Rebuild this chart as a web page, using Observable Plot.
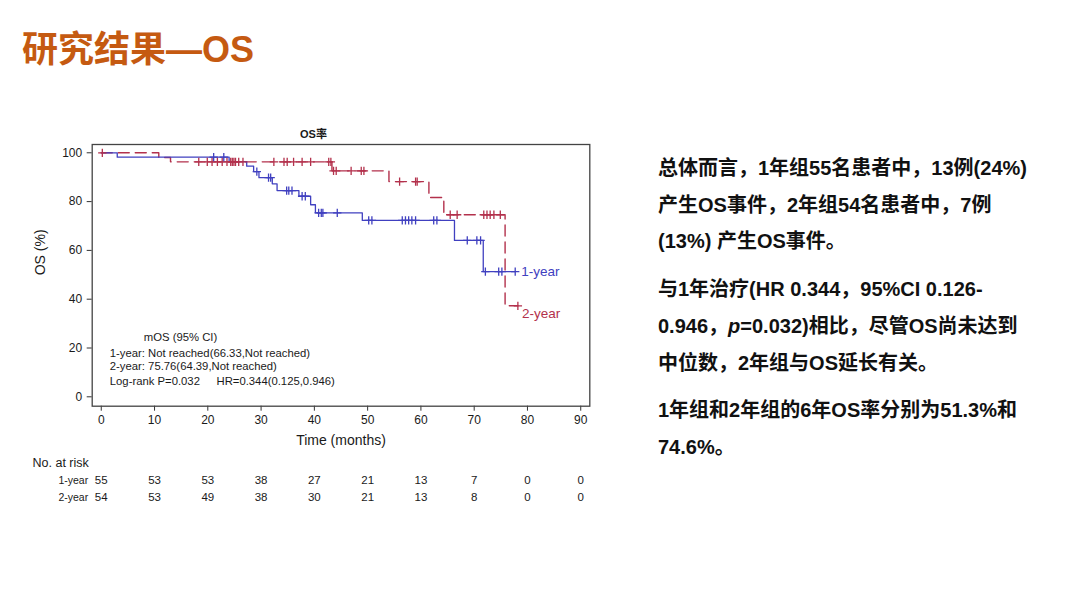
<!DOCTYPE html>
<html>
<head>
<meta charset="utf-8">
<script src="https://cdn.jsdelivr.net/npm/d3@7"></script>
<script src="https://cdn.jsdelivr.net/npm/@observablehq/plot@0.6"></script>
<style>
  html, body { margin: 0; padding: 0; background: #fff; }
  body { width: 1080px; height: 608px; position: relative; overflow: hidden;
         font-family: "Liberation Sans", Arial, "Noto Sans CJK SC", sans-serif; }
  #title { position: absolute; left: 22px; top: 28px; font-size: 36px; font-weight: bold;
           color: #C55A11; line-height: 44px; white-space: nowrap; }
  #chart { position: absolute; left: 0; top: 120px; }
  #notes { position: absolute; left: 658px; top: 150px; width: 420px; font-size: 20px;
           font-weight: bold; color: #111; line-height: 36.7px; }
  #notes p { margin: 0 0 11px 0; white-space: nowrap; }
</style>
</head>
<body>
<div id="title">研究结果—OS</div>
<div id="chart"></div>
<div id="notes">
  <p>总体而言，1年组55名患者中，13例(24%)<br>产生OS事件，2年组54名患者中，7例<br>(13%) 产生OS事件。</p>
  <p>与1年治疗(HR 0.344，95%CI 0.126-<br>0.946，<i>p</i>=0.032)相比，尽管OS尚未达到<br>中位数，2年组与OS延长有关。</p>
  <p>1年组和2年组的6年OS率分别为51.3%和<br>74.6%。</p>
</div>
<script>
// ---- Data ----
// 1-year group: step times (months) and survival (%) after each step; last point = end of follow-up
const oneYearTimes = [0, 3, 24, 27.3, 28.6, 29.6, 32.1, 33, 37.1, 39.3, 40.2, 49, 66.3, 71.7, 77.7];
const oneYearSurv  = [100, 98.2, 96.4, 94.5, 92.3, 89.8, 87.3, 84.5, 82.2, 78.7, 75.4, 72.3, 64.1, 51.3, 51.3];
const oneYearCensored = [21.1, 23.0, 29.2, 31.4, 31.8, 34.8, 35.2, 35.8, 37.7, 38.3, 40.8, 41.3, 41.6, 44.3,
  50.2, 50.8, 56.5, 57.1, 57.7, 58.3, 59.0, 62.4, 63.0, 68.7, 70.5, 71.2, 72.1, 74.6, 75.2, 77.7];

// 2-year group
const twoYearTimes = [0, 10.8, 13, 43.3, 54, 61.5, 64.3, 75.8, 78.2];
const twoYearSurv  = [100, 98.1, 96.3, 92.6, 88.2, 81.7, 74.6, 37.3, 37.3];
const twoYearCensored = [0.2, 18.3, 19.9, 20.8, 21.8, 22.7, 23.6, 24.3, 24.6, 24.9, 25.2, 25.8, 26.6,
  32.4, 34.3, 34.9, 36.1, 37.7, 39.3, 42.7, 43.1, 43.6, 44.1, 46.9, 48.8, 49.3, 56, 59, 59.3,
  65.5, 66.8, 71.8, 72.4, 73.0, 73.7, 74.9, 78.2];

// Number at risk
const riskTimes = [0, 10, 20, 30, 40, 50, 60, 70, 80, 90];
const riskOneYear = [55, 53, 53, 38, 27, 21, 13, 7, 0, 0];
const riskTwoYear = [54, 53, 49, 38, 30, 21, 13, 8, 0, 0];

const xTicks = [0, 10, 20, 30, 40, 50, 60, 70, 80, 90];
const yTicks = [0, 20, 40, 60, 80, 100];

const groupNames = ["1-year", "2-year"];
const annotLines = ["1-year: Not reached(66.33,Not reached)", "2-year: 75.76(64.39,Not reached)", "Log-rank P=0.032"];

// ---- Build tables ----
const BLUE = "#4040c0", RED = "#b3314c", INK = "#1a1a1a";
const curve = (T, S) => T.map((t, i) => ({t, s: S[i]}));
const survAt = (T, S, x) => { let v = S[0]; for (let i = 0; i < T.length; i++) if (T[i] <= x) v = S[i]; return v; };
const oneCurve = curve(oneYearTimes, oneYearSurv);
const twoCurve = curve(twoYearTimes, twoYearSurv);
const oneCens = oneYearCensored.map(t => ({t, s: survAt(oneYearTimes, oneYearSurv, t)}));
const twoCens = twoYearCensored.map(t => ({t, s: survAt(twoYearTimes, twoYearSurv, t)}));
const risk1 = riskTimes.map((t, i) => ({t, n: riskOneYear[i]}));
const risk2 = riskTimes.map((t, i) => ({t, n: riskTwoYear[i]}));
const endOne = oneCurve[oneCurve.length - 1];
const endTwo = twoCurve[twoCurve.length - 1];

const chart = Plot.plot({
  width: 600, height: 390,
  marginLeft: 91.7, marginRight: 10.7, marginTop: 24, marginBottom: 104.3,
  style: {fontFamily: '"Liberation Sans", Arial, "Noto Sans CJK SC", sans-serif', fontSize: "12px", color: INK, background: "transparent"},
  x: {domain: [-1.7, 91.7]},
  y: {domain: [-3.85, 103.4]},
  marks: [
    Plot.axisX({ticks: xTicks, tickSize: 5, tickPadding: 4, label: null, stroke: "#333", fontSize: 12}),
    Plot.axisY({ticks: yTicks, tickSize: 5, tickPadding: 5, label: null, stroke: "#333", fontSize: 12}),
    Plot.line(twoCurve, {x: "t", y: "s", curve: "step-after", stroke: RED, strokeWidth: 1.4, strokeDasharray: "11,6"}),
    Plot.line(oneCurve, {x: "t", y: "s", curve: "step-after", stroke: BLUE, strokeWidth: 1.3}),
    Plot.dot(twoCens, {x: "t", y: "s", symbol: "plus", r: 2.8, stroke: RED, strokeWidth: 1.3}),
    Plot.dot(oneCens, {x: "t", y: "s", symbol: "plus", r: 2.8, stroke: BLUE, strokeWidth: 1.3}),
    Plot.text([endOne], {x: "t", y: "s", text: () => groupNames[0], dx: 6, textAnchor: "start", fill: BLUE, fontSize: 13.5}),
    Plot.text([endTwo], {x: "t", y: "s", text: () => groupNames[1], dx: 4, dy: 8, textAnchor: "start", fill: RED, fontSize: 13.5}),
    Plot.frame({stroke: "#444", strokeWidth: 1.3}),
    // title
    Plot.text(["OS率"], {frameAnchor: "top", dx: -27.5, dy: -14, fontWeight: "bold", fontSize: 11, fill: INK}),
    // annotation
    Plot.text(["mOS (95% CI)"], {frameAnchor: "bottom-left", dx: 51.6, dy: -65.7, textAnchor: "start", fontSize: 11.3, fill: INK}),
    Plot.text([annotLines[0]], {frameAnchor: "bottom-left", dx: 17.6, dy: -49, textAnchor: "start", fontSize: 11.3, fill: INK}),
    Plot.text([annotLines[1]], {frameAnchor: "bottom-left", dx: 17.6, dy: -36.2, textAnchor: "start", fontSize: 11.3, fill: INK}),
    Plot.text([annotLines[2]], {frameAnchor: "bottom-left", dx: 17.6, dy: -21.7, textAnchor: "start", fontSize: 11.3, fill: INK}),
    Plot.text(["HR=0.344(0.125,0.946)"], {frameAnchor: "bottom-left", dx: 124.3, dy: -21.7, textAnchor: "start", fontSize: 11.3, fill: INK}),
    // axis titles
    Plot.text(["Time (months)"], {frameAnchor: "bottom", dy: 38.5, fontSize: 14, fill: INK}),
    Plot.text(["OS (%)"], {frameAnchor: "left", dx: -51.7, rotate: -90, fontSize: 14, fill: INK}),
    // risk table
    Plot.text(["No. at risk"], {frameAnchor: "bottom-left", dx: -59.7, dy: 61, textAnchor: "start", fontSize: 12.5, fill: INK}),
    Plot.text([groupNames[0]], {frameAnchor: "bottom-left", dx: -4, dy: 77.5, textAnchor: "end", fontSize: 10.5, fill: INK}),
    Plot.text([groupNames[1]], {frameAnchor: "bottom-left", dx: -4, dy: 94.5, textAnchor: "end", fontSize: 10.5, fill: INK}),
    Plot.text(risk1, {x: "t", text: "n", frameAnchor: "bottom", dy: 77.5, fontSize: 11.5, fill: INK}),
    Plot.text(risk2, {x: "t", text: "n", frameAnchor: "bottom", dy: 94.5, fontSize: 11.5, fill: INK})
  ]
});
document.getElementById("chart").appendChild(chart);
</script>
</body>
</html>
